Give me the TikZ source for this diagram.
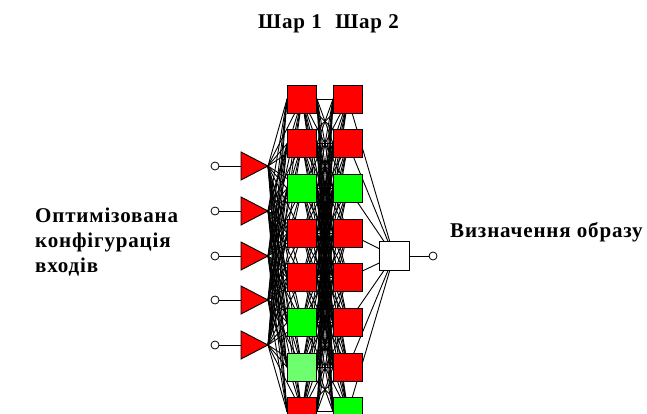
\documentclass[tikz,border=0pt]{standalone}
\usepackage{fontspec}
\setmainfont{Liberation Serif}
\newfontfamily\capfont[LetterSpace=4]{Liberation Serif}
\usetikzlibrary{backgrounds}
\begin{document}
\begin{tikzpicture}[x=1pt,y=-1pt,
  link/.style={line width=0.9pt,black},
  neuron/.style={draw=black,line width=0.9pt,minimum width=29pt,minimum height=28pt,inner sep=0pt},
  red cell/.style={neuron,fill=red},
  green cell/.style={neuron,fill=green},
  pale cell/.style={neuron,fill={rgb,255:red,110;green,255;blue,110}},
  outcell/.style={draw=black,line width=0.9pt,fill=white,minimum width=30pt,minimum height=29pt,inner sep=0pt},
  port/.style={circle,draw=black,line width=0.8pt,fill=white,minimum size=8pt,inner sep=0pt},
  inlet/.style={draw=black,line width=0.9pt,fill=red},
  caption/.style={font=\capfont\bfseries\fontsize{21}{25}\selectfont,inner sep=0pt}]
\useasboundingbox (0,0) rectangle (647,414);
\clip (0,0) rectangle (647,414);

% layer 1 and layer 2 cells
\foreach \i/\s in {1/red cell,2/red cell,3/green cell,4/red cell,5/red cell,6/green cell,7/pale cell,8/red cell}
  \node[\s] (a\i) at (302,{99+44.7*(\i-1)}) {};
\foreach \i/\s in {1/red cell,2/red cell,3/green cell,4/red cell,5/red cell,6/red cell,7/red cell,8/green cell}
  \node[\s] (b\i) at (348,{99+44.7*(\i-1)}) {};
\node[outcell] (out) at (394,256) {};
\node[port] (q) at (433,256) {};

% input ports and triangles
\foreach \k/\y in {1/166,2/211,3/256,4/300,5/345}{
  \coordinate (t\k) at (268,\y);
  \coordinate (tb\k) at (241,\y);
  \node[port] (p\k) at (215,\y) {};
  \draw[link] (p\k) -- (tb\k);
  \draw[inlet] (tb\k) ++(0,-14) -- (t\k) -- ++(-27,14) -- cycle;
}

% connections beneath the cells
\begin{pgfonlayer}{background}
  \foreach \k in {1,...,5}
    \foreach \i in {1,...,8}{
      \draw[link] (t\k) -- (a\i.center);
      \draw[link] (t\k) -- (a\i.west);
    }
  \foreach \i in {1,...,8}
    \foreach \j in {1,...,8}{
      \draw[link] (a\i.center) -- (b\j.center);
      \draw[link] (a\i.east) -- (b\j.west);
    }
  \foreach \j in {1,...,8}
    \draw[link] (b\j.center) -- (out.center);
\end{pgfonlayer}
\draw[link] (out) -- (q);

% labels
\node[caption] (h1) at (290,24) {Шар 1};
\node[caption] (h2) at (367,24) {Шар 2};
\node[caption,anchor=base west] (lin1) at (35,222) {Оптимізована};
\node[caption,anchor=base west] (lin2) at (35,247) {конфігурація};
\node[caption,anchor=base west] (lin3) at (35,272) {входів};
\node[caption,anchor=base west] (lout) at (450,237) {Визначення образу};
\end{tikzpicture}
\end{document}
